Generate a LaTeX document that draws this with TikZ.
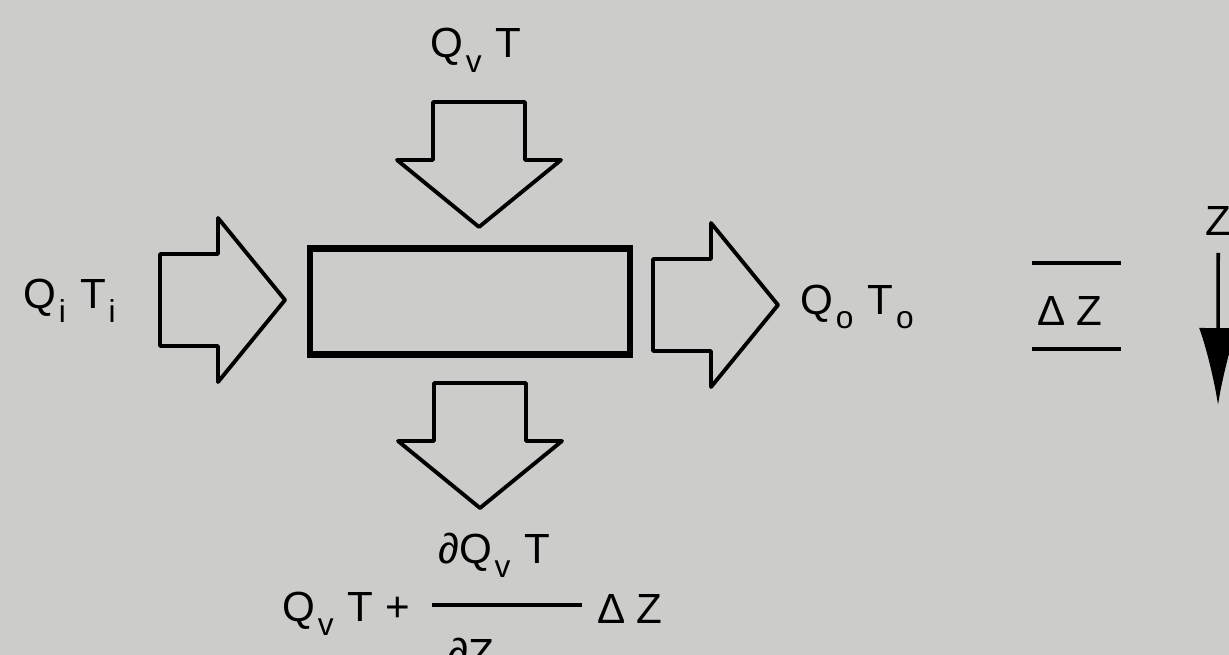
\documentclass[tikz,border=0pt]{standalone}
\usepackage{fontspec}
\setmainfont{Liberation Sans}
\usetikzlibrary{arrows.meta}
\definecolor{paper}{RGB}{204,204,202}
\newcommand{\sbs}[1]{\kern1.5pt\raisebox{-8.5pt}{\fontsize{18}{18}\selectfont #1}\kern1.5pt\relax}

\begin{document}
\begin{tikzpicture}[x=0.02cm, y=-0.02cm,
    >=Latex,   % Pfeilspitzen
    font=\fontsize{24}{28}\selectfont,
    lbl/.style={anchor=base west, inner sep=0pt},
    fat/.style={draw, line width=2.2pt, line join=round},
    pics/fatarrow/.style={code={
      \draw[fat] (0,-46) -- (58,-46) -- (58,-82) -- (125,0) -- (58,82) -- (58,46) -- (0,46) -- cycle;}}]
    % Hintergrund
    \fill[paper] (0,0) rectangle (1229,655);
    \useasboundingbox (0,0) rectangle (1229,655);
    % Volumenelement
    \node[draw, line width=3.8pt, minimum width=6.4cm, minimum height=2.12cm, inner sep=0pt] (cell) at (470,301.5) {};
    % Blockpfeile
    \pic at (160,300) {fatarrow};
    \pic at (653,305) {fatarrow};
    \pic[rotate=-90] at (479,102) {fatarrow};
    \pic[rotate=-90] at (480,383) {fatarrow};
    % Beschriftung
    \node[lbl] (qvt) at (430,58) {Q\sbs{v} T};
    \node[lbl] (qiti) at (23,308) {Q\sbs{i} T\sbs{i}};
    \node[lbl] (qoto) at (800,314) {Q\sbs{o} T\sbs{o}};
    \node[lbl] (dz) at (1037,325) {Δ\kern6pt\relax Z};
    \draw[line width=2.2pt] (1032,263) -- (1121,263);
    \draw[line width=2.2pt] (1032,349) -- (1121,349);
    % z-Achse
    \node[lbl] (zlab) at (1205,235) {Z};
    \coordinate (zend) at (1218,405);
    \draw[line width=2pt, -{Latex[length=1.54cm, width=0.76cm]}] ([yshift=-10pt]zlab.south) -- (zend);
    % Ausfluss unten
    \node[lbl] (qvtb) at (282,621) {Q\sbs{v} T +};
    \node[lbl] (num) at (438,563) {∂Q\sbs{v} T};
    \node[lbl] (den) at (447,668) {∂Z};
    \draw[line width=2pt] (432,605) -- (582,605);
    \node[lbl] (dzb) at (597,623) {Δ\kern6pt\relax Z};
\end{tikzpicture}
\end{document}
